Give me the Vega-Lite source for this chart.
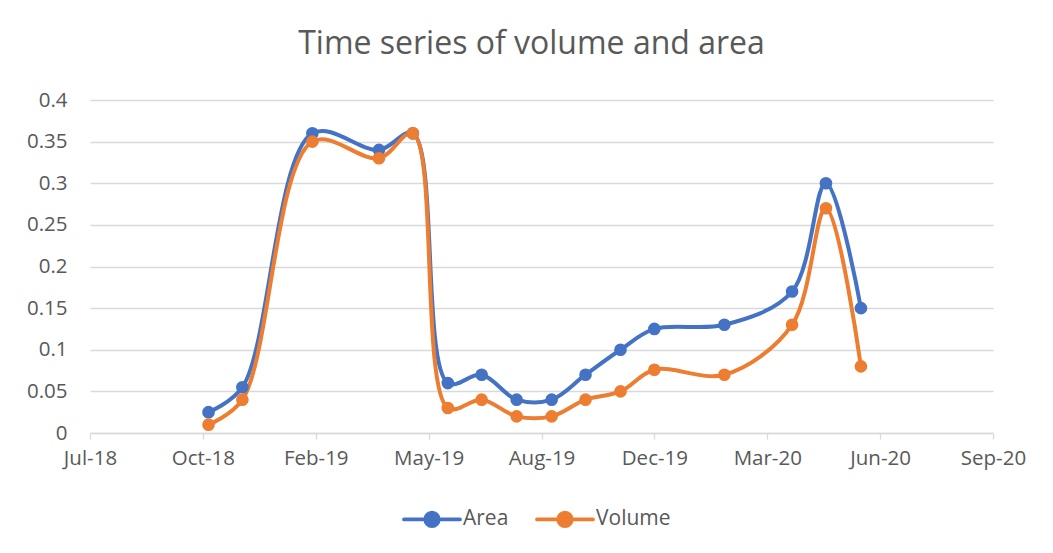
{
  "$schema": "https://vega.github.io/schema/vega-lite/v6.json",
  "width": 903,
  "height": 333,
  "autosize": {"type": "none"},
  "padding": {"left": 90, "top": 100, "right": 60, "bottom": 120},
  "background": "white",
  "title": {
    "text": "Time series of volume and area",
    "font": "Open Sans",
    "fontSize": 32,
    "fontWeight": "normal",
    "color": "#595959",
    "anchor": "middle",
    "baseline": "alphabetic",
    "offset": 4,
    "dx": -10
  },
  "data": {
    "values": [
      {"date": "2018-11-01", "series": "Area", "value": 0.025},
      {"date": "2018-12-01", "series": "Area", "value": 0.055},
      {"date": "2019-02-01", "series": "Area", "value": 0.36},
      {"date": "2019-04-01", "series": "Area", "value": 0.34},
      {"date": "2019-05-01", "series": "Area", "value": 0.36},
      {"date": "2019-06-01", "series": "Area", "value": 0.06},
      {"date": "2019-07-01", "series": "Area", "value": 0.07},
      {"date": "2019-08-01", "series": "Area", "value": 0.04},
      {"date": "2019-09-01", "series": "Area", "value": 0.04},
      {"date": "2019-10-01", "series": "Area", "value": 0.07},
      {"date": "2019-11-01", "series": "Area", "value": 0.1},
      {"date": "2019-12-01", "series": "Area", "value": 0.125},
      {"date": "2020-02-01", "series": "Area", "value": 0.13},
      {"date": "2020-04-01", "series": "Area", "value": 0.17},
      {"date": "2020-05-01", "series": "Area", "value": 0.3},
      {"date": "2020-06-01", "series": "Area", "value": 0.15},
      {"date": "2018-11-01", "series": "Volume", "value": 0.01},
      {"date": "2018-12-01", "series": "Volume", "value": 0.04},
      {"date": "2019-02-01", "series": "Volume", "value": 0.35},
      {"date": "2019-04-01", "series": "Volume", "value": 0.33},
      {"date": "2019-05-01", "series": "Volume", "value": 0.36},
      {"date": "2019-06-01", "series": "Volume", "value": 0.03},
      {"date": "2019-07-01", "series": "Volume", "value": 0.04},
      {"date": "2019-08-01", "series": "Volume", "value": 0.02},
      {"date": "2019-09-01", "series": "Volume", "value": 0.02},
      {"date": "2019-10-01", "series": "Volume", "value": 0.04},
      {"date": "2019-11-01", "series": "Volume", "value": 0.05},
      {"date": "2019-12-01", "series": "Volume", "value": 0.076},
      {"date": "2020-02-01", "series": "Volume", "value": 0.07},
      {"date": "2020-04-01", "series": "Volume", "value": 0.13},
      {"date": "2020-05-01", "series": "Volume", "value": 0.27},
      {"date": "2020-06-01", "series": "Volume", "value": 0.08}
    ]
  },
  "encoding": {
    "x": {
      "field": "date",
      "type": "temporal",
      "title": null,
      "scale": {
        "type": "utc",
        "nice": false,
        "domain": [
          {"year": 2018, "month": 7, "date": 19, "utc": true},
          {"year": 2020, "month": 9, "date": 26, "utc": true}
        ]
      },
      "axis": {
        "values": [
          {"year": 2018, "month": 7, "date": 19, "utc": true},
          {"year": 2018, "month": 10, "date": 27, "utc": true},
          {"year": 2019, "month": 2, "date": 4, "utc": true},
          {"year": 2019, "month": 5, "date": 15, "utc": true},
          {"year": 2019, "month": 8, "date": 23, "utc": true},
          {"year": 2019, "month": 12, "date": 1, "utc": true},
          {"year": 2020, "month": 3, "date": 10, "utc": true},
          {"year": 2020, "month": 6, "date": 18, "utc": true},
          {"year": 2020, "month": 9, "date": 26, "utc": true}
        ],
        "labelExpr": "utcFormat(datum.value, '%b-%y')",
        "grid": false,
        "domainColor": "#d9d9d9",
        "domainWidth": 1.3,
        "ticks": true,
        "tickColor": "#d9d9d9",
        "tickWidth": 1.3,
        "tickSize": 6,
        "labelPadding": 9,
        "labelFont": "Open Sans",
        "labelFontSize": 20.5,
        "labelColor": "#595959",
        "labelFlush": false,
        "labelOverlap": false
      }
    },
    "y": {
      "field": "value",
      "type": "quantitative",
      "title": null,
      "scale": {"domain": [0, 0.4], "nice": false},
      "axis": {
        "values": [0, 0.05, 0.1, 0.15, 0.2, 0.25, 0.3, 0.35, 0.4],
        "format": ".2~f",
        "domain": false,
        "ticks": false,
        "grid": true,
        "gridColor": "#d9d9d9",
        "gridWidth": 1.3,
        "labelPadding": 23,
        "labelFont": "Open Sans",
        "labelFontSize": 20.5,
        "labelColor": "#595959"
      }
    },
    "color": {
      "field": "series",
      "type": "nominal",
      "title": null,
      "scale": {"domain": ["Area", "Volume"], "range": ["#4472C4", "#ED7D31"]},
      "legend": {
        "orient": "none",
        "legendX": 312,
        "legendY": 389,
        "direction": "horizontal",
        "padding": 0,
        "symbolType": "M-1,0L1,0M-0.24,0A0.24,0.24 0 1,0 0.24,0A0.24,0.24 0 1,0 -0.24,0Z",
        "symbolSize": 3136,
        "symbolStrokeWidth": 3.75,
        "labelOffset": 1,
        "columnPadding": 20,
        "labelFont": "Open Sans",
        "labelFontSize": 21,
        "labelColor": "#595959",
        "encode": {
          "symbols": {
            "update": {
              "fill": {"field": "value", "scale": "color"},
              "stroke": {"field": "value", "scale": "color"},
              "opacity": {"value": 1},
              "strokeCap": {"value": "round"}
            }
          }
        }
      }
    }
  },
  "layer": [
    {
      "mark": {"type": "line", "interpolate": "catmull-rom", "strokeWidth": 4, "strokeCap": "round", "strokeJoin": "round"}
    },
    {
      "mark": {"type": "point", "filled": true, "size": 160, "opacity": 1, "strokeWidth": 0}
    }
  ],
  "config": {
    "view": {"stroke": null}
  }
}
